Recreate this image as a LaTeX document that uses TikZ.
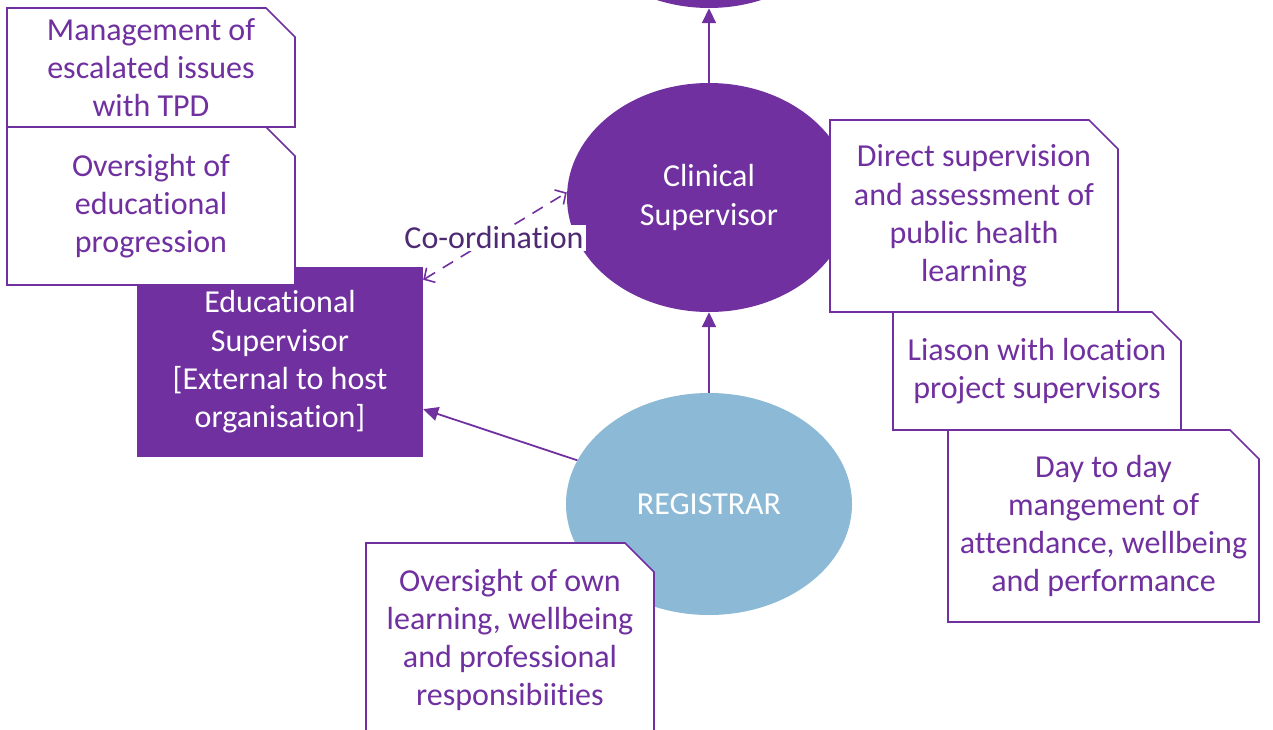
\documentclass[tikz,border=0pt]{standalone}
\usepackage{fontspec}
\setmainfont{Carlito}[Ligatures={NoCommon}]
\usetikzlibrary{arrows.meta,shapes.geometric}
\definecolor{vio}{HTML}{7030A0}
\definecolor{regblue}{HTML}{8CB9D6}
\definecolor{darkvio}{HTML}{4E2A73}
\makeatletter
\pgfdeclareshape{dogear}{%
  \inheritsavedanchors[from=rectangle]%
  \inheritanchorborder[from=rectangle]%
  \inheritanchor[from=rectangle]{center}%
  \inheritanchor[from=rectangle]{north}%
  \inheritanchor[from=rectangle]{south}%
  \inheritanchor[from=rectangle]{east}%
  \inheritanchor[from=rectangle]{west}%
  \inheritanchor[from=rectangle]{north east}%
  \inheritanchor[from=rectangle]{north west}%
  \inheritanchor[from=rectangle]{south east}%
  \inheritanchor[from=rectangle]{south west}%
  \inheritanchor[from=rectangle]{text}%
  \inheritanchor[from=rectangle]{base}%
  \inheritanchor[from=rectangle]{mid}%
  \backgroundpath{%
    \southwest \pgf@xa=\pgf@x \pgf@ya=\pgf@y
    \northeast \pgf@xb=\pgf@x \pgf@yb=\pgf@y
    \pgf@xc=\pgf@xb \advance\pgf@xc by -29pt
    \pgf@yc=\pgf@yb \advance\pgf@yc by -29pt
    \pgfpathmoveto{\pgfqpoint{\pgf@xa}{\pgf@ya}}%
    \pgfpathlineto{\pgfqpoint{\pgf@xa}{\pgf@yb}}%
    \pgfpathlineto{\pgfqpoint{\pgf@xc}{\pgf@yb}}%
    \pgfpathlineto{\pgfqpoint{\pgf@xb}{\pgf@yc}}%
    \pgfpathlineto{\pgfqpoint{\pgf@xb}{\pgf@ya}}%
    \pgfpathclose
  }%
}
\makeatother
\tikzset{
  txt/.style={font=\fontsize{32}{38.3}\selectfont, align=center},
  bubble/.style={ellipse, inner sep=0pt, fill=vio, draw=none, text=white, txt},
  notebox/.style={dogear, inner sep=0pt, outer sep=0pt, fill=white, draw=vio,
    line width=1.6pt, text=vio, txt},
  solidarrow/.style={draw=vio, line width=1.8pt, -{Triangle[length=15pt,width=14pt]}},
  dasharrow/.style={draw=vio, line width=1.6pt, dash pattern=on 12pt off 9pt,
    {Straight Barb[length=8pt,width=17pt]}-{Straight Barb[length=8pt,width=17pt]}}
}
\begin{document}
\begin{tikzpicture}[x=1pt,y=-1pt]
\useasboundingbox (0,0) rectangle (1273,730);
\node[bubble, minimum width=282pt, minimum height=226pt] (top) at (709,-105) {};
\node[bubble, minimum width=284pt, minimum height=229pt] (cs) at (709,197.5) {Clinical\\Supervisor};
\node[bubble, fill=regblue, minimum width=286pt, minimum height=222pt] (reg) at (709,504) {REGISTRAR};
\node[rectangle, fill=vio, text=white, txt, inner sep=0pt, minimum width=286pt, minimum height=190pt] (es) at (280,362)
  {Educational\\Supervisor\\{[External to host}\\organisation]};
\draw[solidarrow] (cs.north) -- (top.south);
\draw[solidarrow] (reg.north) -- (cs.south);
\draw[solidarrow] (reg) -- (es);
\draw[dasharrow] ([yshift=-13pt]es.north east) -- ([yshift=5pt]cs.west);
\node[fill=white, inner xsep=2pt, inner ysep=2pt, text=darkvio, font=\fontsize{32}{36}\selectfont] (coord) at (494,238) {Co-ordination};
\node[notebox, minimum width=288pt, minimum height=119pt] (mgmt) at (151,67.5) {Management of\\escalated issues\\with TPD};
\node[notebox, minimum width=288pt, minimum height=158pt] (edprog) at (151,206) {Oversight of\\educational\\progression};
\node[notebox, minimum width=288pt, minimum height=192pt] (direct) at (974,216) {Direct supervision\\and assessment of\\public health\\learning};
\node[notebox, minimum width=288pt, minimum height=118pt] (liason) at (1037,371) {Liason with location\\project supervisors};
\node[notebox, minimum width=311pt, minimum height=192pt] (day) at (1103.5,526) {Day to day\\mangement of\\attendance, wellbeing\\and performance};
\node[notebox, minimum width=288pt, minimum height=194pt] (own) at (510,640) {Oversight of own\\learning, wellbeing\\and professional\\responsibiities};
\end{tikzpicture}
\end{document}
